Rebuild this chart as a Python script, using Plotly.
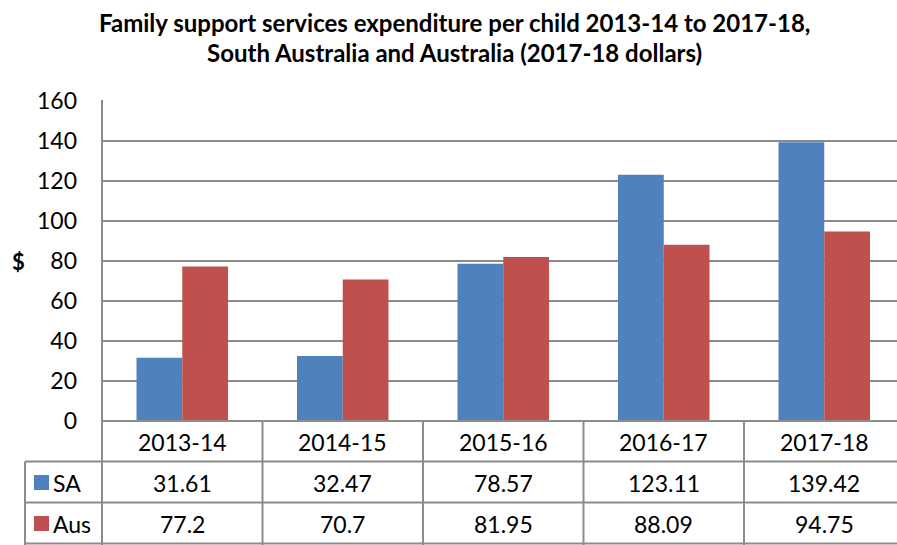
import plotly.graph_objects as go

# Financial years and expenditure per child (2017-18 dollars)
years = ["2013-14", "2014-15", "2015-16", "2016-17", "2017-18"]
sa_values = [31.61, 32.47, 78.57, 123.11, 139.42]
aus_values = [77.2, 70.7, 81.95, 88.09, 94.75]
y_ticks = [0, 20, 40, 60, 80, 100, 120, 140, 160]

BLUE = "#4F81BD"
RED = "#C0504D"
GRID = "#8C8C8C"
FONT = "Lato"

W, H = 897, 545
PL, PT, PB = 102, 101, 421          # plot area pixel edges (left, top, bottom)
PR = W
CAT_W = 160.5                       # pixel width of one category


def px(xp):
    return (xp - PL) / (PR - PL)


def py(yp):
    return (PB - yp) / (PB - PT)


x_idx = list(range(len(years)))

fig = go.Figure()
fig.add_trace(go.Bar(x=x_idx, y=sa_values, name="SA", marker=dict(color=BLUE, line=dict(width=0))))
fig.add_trace(go.Bar(x=x_idx, y=aus_values, name="Aus", marker=dict(color=RED, line=dict(width=0))))

shapes = []
line = dict(color=GRID, width=2)
# left border of the plot, running down through the table
shapes.append(dict(type="line", xref="paper", yref="paper", x0=px(PL), x1=px(PL), y0=py(PT - 1), y1=py(546), line=line))
# baseline and table horizontal rules
shapes.append(dict(type="line", xref="paper", yref="paper", x0=px(PL), x1=px(W), y0=py(PB), y1=py(PB), line=line))
for yy in [461.5, 502.5, 543.5]:
    shapes.append(dict(type="line", xref="paper", yref="paper", x0=px(25), x1=px(W), y0=py(yy), y1=py(yy), line=line))
# legend column left edge
shapes.append(dict(type="line", xref="paper", yref="paper", x0=px(25), x1=px(25), y0=py(461.5), y1=py(546), line=line))
# category separators in the table
for i in range(1, len(years)):
    xx = PL + i * CAT_W
    shapes.append(dict(type="line", xref="paper", yref="paper", x0=px(xx), x1=px(xx), y0=py(PB), y1=py(546), line=line))
# legend keys
for yc, col in [(482.5, BLUE), (523.5, RED)]:
    shapes.append(dict(type="rect", xref="paper", yref="paper", x0=px(34), x1=px(49), y0=py(yc - 7.5), y1=py(yc + 7.5),
                       fillcolor=col, line=dict(width=0)))

ann = []
cell_font = dict(family=FONT, size=23, color="black")
row_y = {"head": 441.5, "SA": 482.5, "Aus": 523.5}
for i, yr in enumerate(years):
    for key, txt in [("head", yr), ("SA", str(sa_values[i])), ("Aus", str(aus_values[i]))]:
        ann.append(dict(x=i, xref="x", y=py(row_y[key]), yref="paper", xanchor="center", yanchor="middle",
                        text=txt, showarrow=False, font=cell_font))
for name in ["SA", "Aus"]:
    ann.append(dict(x=px(51), xref="paper", xanchor="left", y=py(row_y[name]), yref="paper", yanchor="middle",
                    text=name, showarrow=False, font=cell_font))
# axis title
ann.append(dict(x=px(18), xref="paper", xanchor="center", y=py(261), yref="paper", yanchor="middle",
                text="<b>$</b>", showarrow=False, font=dict(family=FONT, size=22, color="black")))
# chart title
title_font = dict(family=FONT, size=24, color="black")
ann.append(dict(x=px(454), xref="paper", xanchor="center", y=py(22), yref="paper", yanchor="middle",
                showarrow=False, font=title_font,
                text="<b>Family support services expenditure per child 2013-14 to 2017-18,</b>"))
ann.append(dict(x=px(454), xref="paper", xanchor="center", y=py(52), yref="paper", yanchor="middle",
                showarrow=False, font=title_font,
                text="<b>South Australia and Australia (2017-18 dollars)</b>"))

fig.update_layout(
    width=W, height=H,
    margin=dict(l=PL, r=0, t=PT, b=H - PB, pad=0),
    plot_bgcolor="white", paper_bgcolor="white",
    barmode="group", bargap=0.43, bargroupgap=0,
    showlegend=False,
    shapes=shapes, annotations=ann,
    xaxis=dict(range=[-0.5, -0.5 + (PR - PL) / CAT_W], showticklabels=False, showgrid=False,
               zeroline=False, showline=False, fixedrange=True),
    yaxis=dict(range=[0, 160], tickvals=y_ticks, showgrid=True, gridcolor=GRID, gridwidth=2,
               zeroline=False, showline=False, ticks="", ticklabelstandoff=24,
               tickfont=dict(family=FONT, size=23, color="black")),
)

fig.write_html("out.html")
